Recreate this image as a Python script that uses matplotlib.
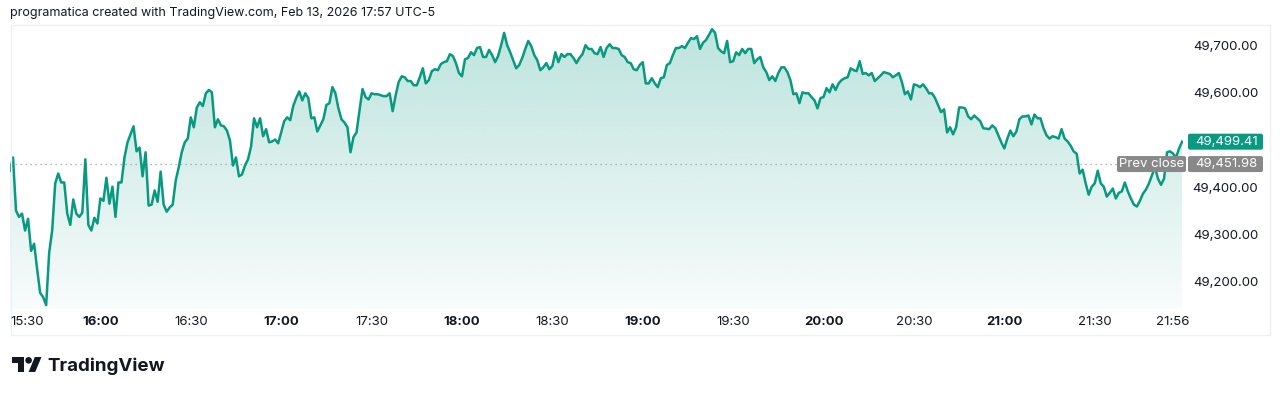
import numpy as np
import matplotlib.pyplot as plt
from matplotlib.colors import to_rgb
from matplotlib.patches import Rectangle, Polygon, Circle, FancyBboxPatch
from matplotlib.transforms import IdentityTransform, blended_transform_factory

plt.rcParams['font.family'] = ['Inter', 'DejaVu Sans']

# 1-minute closes from 15:30
start_time = "15:30"
prices = [
    49438, 49466, 49353, 49340, 49347, 49311, 49336, 49268, 49283, 49230,
    49179, 49170, 49153, 49264, 49311, 49411, 49432, 49413, 49413, 49347,
    49323, 49377, 49347, 49340, 49349, 49462, 49323, 49311, 49338, 49326,
    49379, 49374, 49423, 49368, 49404, 49340, 49413, 49413, 49466, 49498,
    49515, 49532, 49479, 49487, 49426, 49477, 49364, 49366, 49396, 49372,
    49436, 49366, 49351, 49360, 49366, 49417, 49445, 49477, 49498, 49506,
    49551, 49530, 49572, 49583, 49575, 49602, 49609, 49604, 49530, 49547,
    49534, 49532, 49523, 49502, 49449, 49466, 49426, 49430, 49449, 49462,
    49489, 49549, 49530, 49549, 49511, 49526, 49498, 49500, 49504, 49496,
    49519, 49543, 49551, 49545, 49575, 49592, 49606, 49587, 49602, 49592,
    49549, 49551, 49521, 49534, 49547, 49577, 49581, 49615, 49602, 49570,
    49547, 49540, 49530, 49477, 49509, 49519, 49566, 49611, 49594, 49589,
    49602, 49600, 49600, 49598, 49596, 49596, 49602, 49564, 49598, 49626,
    49638, 49636, 49628, 49628, 49619, 49619, 49636, 49655, 49623, 49630,
    49649, 49653, 49651, 49664, 49668, 49670, 49685, 49681, 49666, 49645,
    49638, 49674, 49677, 49689, 49683, 49698, 49700, 49679, 49679, 49694,
    49683, 49668, 49681, 49704, 49730, 49704, 49689, 49672, 49655, 49662,
    49677, 49696, 49713, 49702, 49683, 49672, 49651, 49657, 49666, 49653,
    49660, 49689, 49668, 49685, 49679, 49685, 49685, 49677, 49666, 49677,
    49685, 49704, 49696, 49696, 49687, 49685, 49700, 49679, 49698, 49706,
    49698, 49698, 49696, 49683, 49679, 49668, 49666, 49653, 49651, 49662,
    49668, 49623, 49623, 49634, 49623, 49615, 49634, 49636, 49662, 49666,
    49683, 49698, 49698, 49702, 49698, 49709, 49719, 49717, 49723, 49696,
    49709, 49715, 49726, 49738, 49730, 49698, 49691, 49687, 49713, 49668,
    49670, 49689, 49683, 49696, 49687, 49696, 49696, 49666, 49674, 49679,
    49657, 49647, 49630, 49638, 49628, 49645, 49657, 49657, 49647, 49630,
    49600, 49602, 49581, 49604, 49602, 49602, 49594, 49587, 49570, 49592,
    49594, 49613, 49604, 49621, 49609, 49623, 49630, 49634, 49636, 49655,
    49651, 49649, 49670, 49643, 49645, 49640, 49645, 49628, 49634, 49640,
    49647, 49645, 49643, 49636, 49640, 49645, 49626, 49600, 49606, 49589,
    49621, 49619, 49615, 49621, 49613, 49602, 49602, 49592, 49577, 49562,
    49568, 49519, 49530, 49515, 49530, 49572, 49572, 49570, 49553, 49547,
    49555, 49549, 49543, 49528, 49527, 49526, 49534, 49528, 49513, 49498,
    49485, 49506, 49523, 49511, 49521, 49547, 49553, 49553, 49555, 49536,
    49557, 49549, 49549, 49528, 49513, 49506, 49511, 49509, 49506, 49526,
    49506, 49500, 49491, 49479, 49474, 49432, 49440, 49411, 49387, 49404,
    49411, 49438, 49411, 49404, 49383, 49391, 49400, 49379, 49391, 49394,
    49413, 49394, 49379, 49366, 49362, 49374, 49389, 49398, 49411, 49428,
    49445, 49421, 49408, 49421, 49477, 49479, 49474, 49466, 49485, 49499.41,
]
prev_close = 49451.98
price_ticks = [49200, 49300, 49400, 49600, 49700]
time_labels = ["15:30", "16:00", "16:30", "17:00", "17:30", "18:00", "18:30",
               "19:00", "19:30", "20:00", "20:30", "21:00", "21:30", "21:56"]
header = "programatica created with TradingView.com, Feb 13, 2026 17:57 UTC-5"

W, H = 1280, 394
green = "#089981"
grey = "#888888"
text_col = "#131722"

fig = plt.figure(figsize=(W / 100, H / 100), dpi=100)


def box(x0, y0, x1, y1):
    return [x0 / W, 1 - y1 / H, (x1 - x0) / W, (y1 - y0) / H]


def to_min(t):
    h, m = t.split(":")
    sh, sm = start_time.split(":")
    return int(h) * 60 + int(m) - (int(sh) * 60 + int(sm))


ax = fig.add_axes(box(10, 25, 1183, 309))
x = np.arange(len(prices))
xmax = 389.3
ymin, ymax = 49144.7, 49746.8

# gradient under the line
grad = np.zeros((256, 1, 4))
grad[..., :3] = to_rgb(green)
grad[:, 0, 3] = np.linspace(0.27, 0.03, 256)
im = ax.imshow(grad, extent=[0, xmax, ymin, ymax], aspect="auto",
               origin="upper", zorder=1, interpolation="bilinear")
verts = [(x[0], ymin)] + list(zip(x, prices)) + [(x[-1], ymin)]
area = Polygon(verts, closed=True, fc="none", ec="none")
ax.add_patch(area)
im.set_clip_path(area)

ax.plot(x, prices, color=green, lw=1.8, solid_joinstyle="round", zorder=3)
ax.axhline(prev_close, color="#9a9ea6", lw=0.9, ls=(0, (1, 3)), zorder=2)

ax.set_xlim(0, xmax)
ax.set_ylim(ymin, ymax)
ax.axis("off")

# chart frame
fig.add_artist(Rectangle((11, H - 335), 1259, 310, fill=False, ec="#eef0f3",
                         lw=1, transform=IdentityTransform()))

# price scale
blend = blended_transform_factory(fig.transFigure, ax.transData)
for p in price_ticks:
    ax.text(1258 / W, p, f"{p:,.2f}", transform=blend, ha="right",
            va="center", fontsize=9.5, color=text_col)


def tag(x0, yd, w, color):
    fig.add_artist(FancyBboxPatch((x0, yd - 8), w, 16,
                                  boxstyle="round,pad=0,rounding_size=2",
                                  fc=color, ec="none",
                                  transform=IdentityTransform()))


def label(value, color, txt):
    yd = ax.transData.transform((0, value))[1]
    tag(1188, yd, 75, color)
    fig.text(1258 / W, yd / H, txt, ha="right", va="center",
             fontsize=9.5, color="white")
    return yd


label(prices[-1], green, f"{prices[-1]:,.2f}")
yd = label(prev_close, grey, f"{prev_close:,.2f}")
tag(1117, yd, 69, grey)
fig.text(1151.5 / W, yd / H, "Prev close", ha="center", va="center",
         fontsize=9.5, color="white")

# time scale
for i, t in enumerate(time_labels):
    m = to_min(t)
    xd = ax.transData.transform((m, 0))[0]
    bold = t.endswith(":00")
    if i == 0:
        fig.text(10 / W, 1 - 322 / H, t, ha="left", va="center",
                 fontsize=9.5, color=text_col)
    else:
        fig.text(xd / W, 1 - 322 / H, t, ha="center", va="center",
                 fontsize=9.5, color=text_col,
                 fontweight="bold" if bold else "normal")

fig.text(10 / W, 1 - 13 / H, header, ha="left", va="center",
         fontsize=9, color=text_col)

# TradingView logo
s, ox, oy = 0.83, 12, 353.7


def pt(u, v):
    return (ox + u * s, H - (oy + v * s))


logo_t = [(14, 22), (7, 22), (7, 11), (0, 11), (0, 4), (14, 4)]
logo_v = [(28, 22), (20, 22), (27.5, 4), (35.5, 4)]
for shape in (logo_t, logo_v):
    fig.add_artist(Polygon([pt(u, v) for u, v in shape], closed=True,
                           fc=text_col, ec="none", transform=IdentityTransform()))
fig.add_artist(Circle(pt(20, 8), 4 * s, fc=text_col, ec="none",
                      transform=IdentityTransform()))
fig.text(47 / W, 1 - 371 / H, "TradingView", ha="left", va="baseline",
         fontsize=13.5, fontweight="bold", color=text_col)

fig.savefig("out.png", dpi=100)
